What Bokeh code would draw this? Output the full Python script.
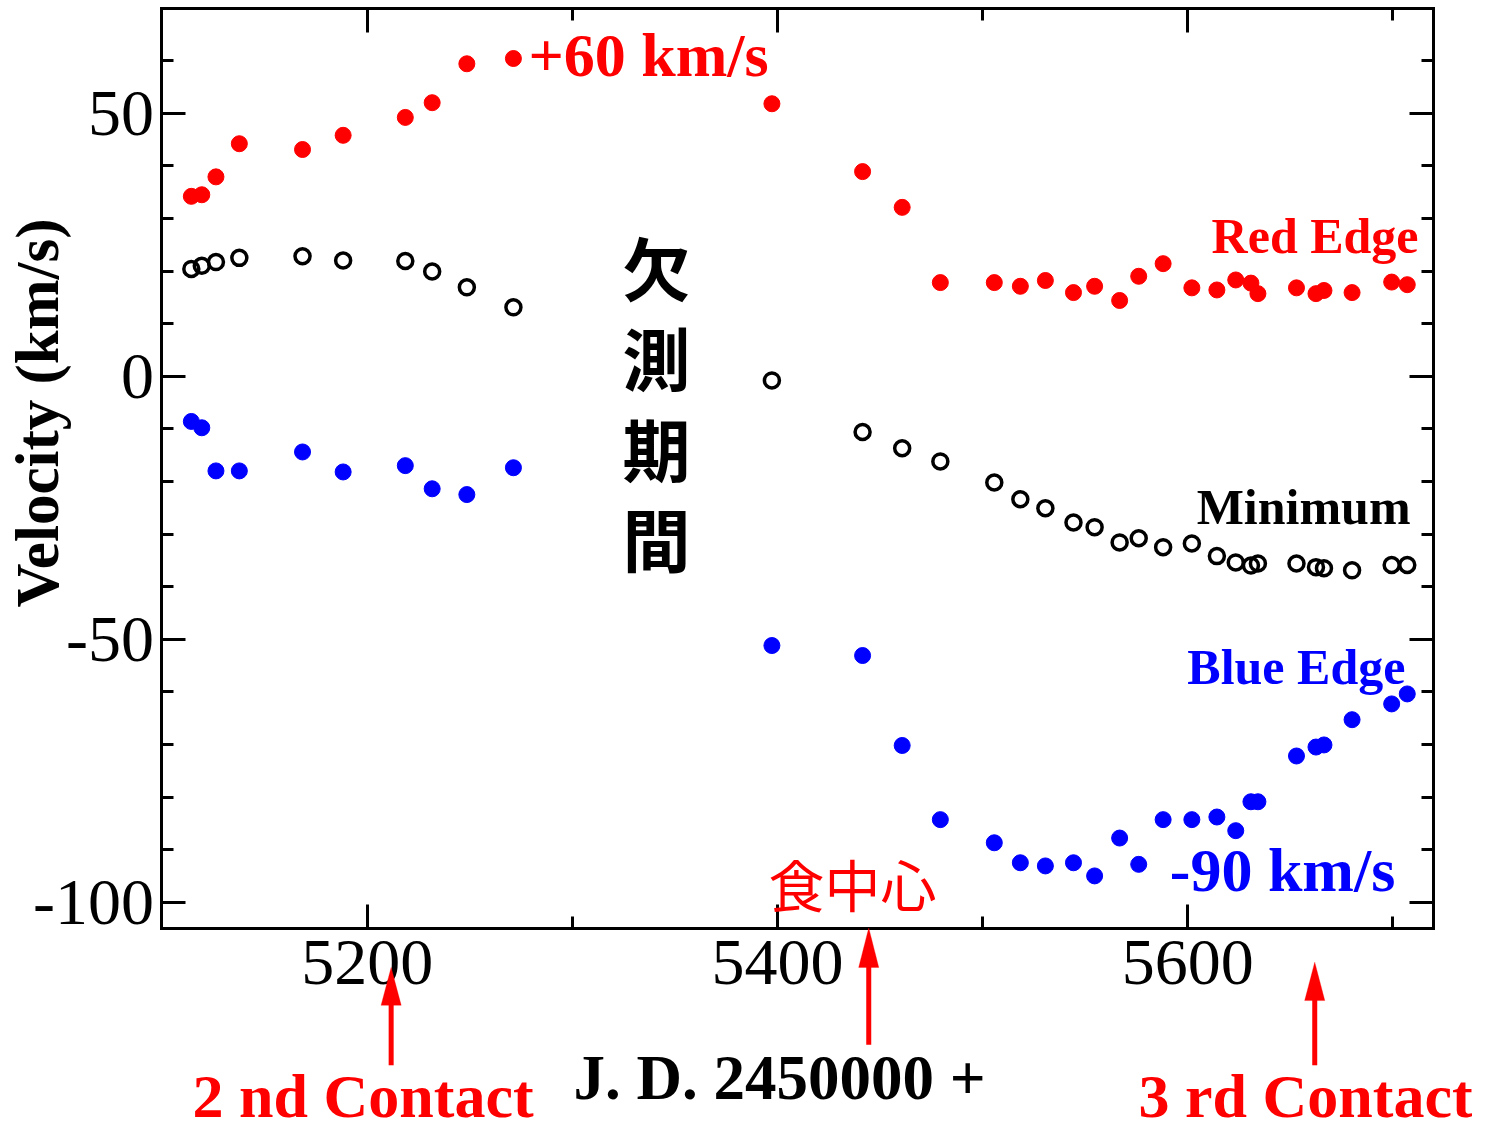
from bokeh.plotting import figure
from bokeh.models import (Range1d, LinearAxis, SingleIntervalTicker, Label, Arrow,
                          PolyAnnotation, CustomJSTickFormatter)
from bokeh.embed import file_html
from bokeh.resources import INLINE

# ---------------- data (J.D. - 2450000, velocities in km/s) ----------------
jd = [5114.3, 5119.4, 5126.3, 5137.7, 5168.5, 5188.3, 5218.6, 5231.7, 5248.6, 5271.3,
      5397.3, 5441.5, 5460.8, 5479.4, 5505.7, 5518.4, 5530.6, 5544.3, 5554.6, 5566.8,
      5576.1, 5588.0, 5602.0, 5614.2, 5623.4, 5630.8, 5634.2, 5653.0, 5662.5, 5666.4,
      5680.1, 5699.4, 5707.0]

red_edge = [34.2, 34.5, 37.9, 44.2, 43.1, 45.8, 49.2, 52.0, 59.4, 60.4,
            51.8, 38.9, 32.1, 17.8, 17.8, 17.1, 18.2, 15.9, 17.1, 14.4,
            19.0, 21.4, 16.8, 16.4, 18.3, 17.7, 15.7, 16.8, 15.7, 16.3,
            15.9, 17.9, 17.4]

minimum = [20.4, 21.0, 21.7, 22.5, 22.8, 22.0, 21.9, 19.9, 16.9, 13.1,
           -0.8, -10.6, -13.7, -16.2, -20.2, -23.4, -25.1, -27.8, -28.7, -31.6,
           -30.8, -32.5, -31.8, -34.2, -35.4, -36.0, -35.6, -35.6, -36.3, -36.5,
           -36.9, -35.9, -35.9]

blue_edge = [-8.6, -9.8, -18.0, -18.0, -14.4, -18.2, -17.0, -21.4, -22.5, -17.4,
             -51.2, -53.1, -70.2, -84.3, -88.7, -92.5, -93.1, -92.5, -95.0, -87.8,
             -92.8, -84.3, -84.3, -83.8, -86.4, -80.9, -80.9, -72.2, -70.5, -70.1,
             -65.3, -62.3, -60.4]

# axes limits and ticks
x_lim = (5100, 5720)
y_lim = (-105, 70)
x_major, x_minor_n = 200, 2
y_major, y_minor_n = 50, 5

# contact / mid-eclipse epochs marked with arrows
contact_jd = [5211.7, 5444.5, 5661.9]
contact_labels = ["2 nd Contact", "3 rd Contact"]

RED = "#ff0000"
BLUE = "#0000ff"
SERIF = "Liberation Serif"
CJK = "Noto Sans CJK JP"

W, H = 1472, 1130
# the data frame fills the whole canvas; the axes are drawn at fixed locations
p = figure(width=W, height=H, output_backend="svg", toolbar_location=None,
           x_range=Range1d(5021.28, 5738.80), y_range=Range1d(-143.40, 71.43),
           min_border=0, min_border_left=0, min_border_right=0,
           min_border_top=0, min_border_bottom=0)

p.xgrid.visible = False
p.ygrid.visible = False
p.background_fill_color = "white"
p.border_fill_color = "white"
p.outline_line_color = None

hyphen_fmt = "return String(tick)"


def style_axis(ax, show_labels, loc, bounds):
    ax.fixed_location = loc
    ax.bounds = bounds
    ax.axis_line_color = "black"
    ax.axis_line_width = 3
    ax.axis_line_cap = "square"
    ax.major_tick_in = 24
    ax.major_tick_out = 0
    ax.minor_tick_in = 12
    ax.minor_tick_out = 0
    ax.major_tick_line_width = 3
    ax.minor_tick_line_width = 3
    ax.major_tick_line_color = "black"
    ax.minor_tick_line_color = "black"
    if show_labels:
        ax.formatter = CustomJSTickFormatter(code=hyphen_fmt)
        ax.major_label_text_font = SERIF
        ax.major_label_text_font_size = "66px"
        ax.major_label_text_color = "black"
    else:
        ax.formatter = CustomJSTickFormatter(code="return ''")
        ax.major_label_text_font_size = "0px"
        ax.major_label_standoff = 0


xt = lambda: SingleIntervalTicker(interval=x_major, num_minor_ticks=x_minor_n)
yt = lambda: SingleIntervalTicker(interval=y_major, num_minor_ticks=y_minor_n)

bx = p.below[0]
bx.ticker = xt()
style_axis(bx, True, y_lim[0], x_lim)
bx.major_label_standoff = 12

ly = p.left[0]
ly.ticker = yt()
style_axis(ly, True, x_lim[0], y_lim)
ly.major_label_standoff = 8

ax_top = LinearAxis(ticker=xt())
p.add_layout(ax_top, "above")
style_axis(ax_top, False, y_lim[1], x_lim)
ax_right = LinearAxis(ticker=yt())
p.add_layout(ax_right, "right")
style_axis(ax_right, False, x_lim[1], y_lim)

# ---------------- markers ----------------
p.scatter(jd, red_edge, marker="circle", size=16, fill_color=RED, line_color=RED)
p.scatter(jd, blue_edge, marker="circle", size=16, fill_color=BLUE, line_color=BLUE)
p.scatter(jd, minimum, marker="circle", size=15, fill_color=None, line_color="black",
          line_width=3.5)


# ---------------- annotations ----------------
def lab(x, y, text, color="black", size="60px", font=SERIF, style="bold",
        align="left", angle=0, line_height=1.2):
    p.add_layout(Label(x=x, y=y, text=text, text_color=color, text_font=font,
                       text_font_size=size, text_font_style=style, text_align=align,
                       text_baseline="middle", angle=angle,
                       text_line_height=line_height))


lab(5278.6, 61.0, "+60 km/s", RED, size="62px")
lab(5712.5, 26.6, "Red Edge", RED, size="50px", align="right")
lab(5708.6, -24.8, "Minimum", "black", size="50px", align="right")
lab(5706.1, -55.3, "Blue Edge", BLUE, size="50px", align="right")
lab(5701.2, -93.8, "-90 km/s", BLUE, size="62px", align="right")
lab(5436.6, -96.3, "食中心", RED, size="56px", font=CJK, style="normal",
    align="center")
lab(5341.0, -4.9, "欠\n測\n期\n間", "black", size="68px", font=CJK,
    align="center", line_height=0.91)

# axis titles
lab(5039.3, -7.0, "Velocity (km/s)", "black", size="61px", align="center",
    angle=1.5707963)
lab(5401.0, -133.4, "J. D. 2450000 +", "black", size="63px", align="center")

# contact labels
lab(5198.0, -136.75, contact_labels[0], RED, size="62px", align="center")
lab(5657.4, -136.75, contact_labels[1], RED, size="62px", align="center")

# arrows (tip, head base, tail in data units below the frame)
arrow_tip = [-112.4, -104.9, -111.4]
arrow_base = [-119.6, -112.4, -118.7]
arrow_tail = [-131.0, -127.1, -131.0]
half_w = 4.9
for xc, tip, base, tail in zip(contact_jd, arrow_tip, arrow_base, arrow_tail):
    p.add_layout(Arrow(end=None, x_start=xc, y_start=tail, x_end=xc, y_end=base + 0.5,
                       line_color=RED, line_width=5))
    p.add_layout(PolyAnnotation(xs=[xc - half_w, xc, xc + half_w], ys=[base, tip, base],
                                fill_color=RED, fill_alpha=1.0, line_color=RED,
                                line_width=1))

open("out.html", "w").write(file_html(p, INLINE))
